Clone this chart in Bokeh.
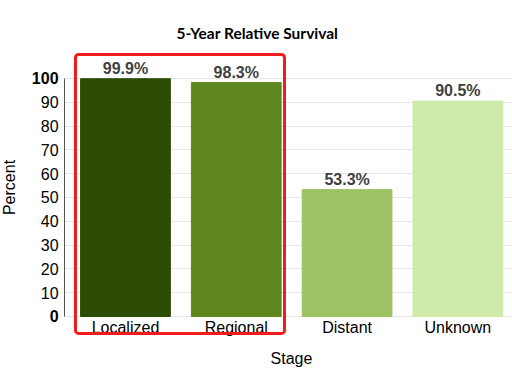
from bokeh.plotting import figure
from bokeh.models import ColumnDataSource, Range1d, FixedTicker, BoxAnnotation, LinearAxis
from bokeh.embed import file_html
from bokeh.resources import INLINE
from bokeh.core.properties import value

stages = ["Localized", "Regional", "Distant", "Unknown"]
survival = [99.9, 98.3, 53.3, 90.5]
colors = ["#2c4b03", "#5e881f", "#9dc264", "#d0eaa9"]
y_ticks = [0, 10, 20, 30, 40, 50, 60, 70, 80, 90, 100]
y_ticks_regular = [10, 20, 30, 40, 50, 60, 70, 80, 90]
y_ticks_bold = [0, 100]

xs = list(range(len(stages)))
src = ColumnDataSource(dict(x=xs, top=survival, color=colors,
                            label=[f"{v:.1f}%" for v in survival]))

X_AXIS = -0.55          # where the y axis sits
X0, X1 = -1.128, 3.493  # frame spans the whole canvas width
Y0, Y1 = -23.53, 110.92

p = figure(width=512, height=372, output_backend="svg", toolbar_location=None,
           x_range=Range1d(X0, X1), y_range=Range1d(Y0, Y1),
           min_border_left=0, min_border_right=0, min_border_top=52, min_border_bottom=0)

p.title.text = "5-Year Relative Survival"
p.title.text_font = "Lato"
p.title.text_font_size = "15.5px"
p.title.text_font_style = "bold"
p.title.text_color = "#000000"
p.title.align = "left"
p.title.offset = 176
p.title.standoff = 21

p.vbar(x="x", top="top", width=0.81, bottom=0, fill_color="color", line_color="color", source=src)
p.text(x="x", y="top", text="label", source=src, text_align="center", text_baseline="bottom",
       y_offset=-2, text_font=value("Liberation Sans"), text_font_size="16px",
       text_font_style="bold", text_color="#404040")

p.outline_line_color = None
p.background_fill_color = "white"

# x axis (drawn at y = 0)
xa = p.xaxis[0]
xa.fixed_location = 0
xa.bounds = (-0.42, 3.42)
xa.ticker = FixedTicker(ticks=xs)
xa.major_label_overrides = {i: s for i, s in enumerate(stages)}
xa.axis_line_color = None
xa.major_tick_line_color = None
xa.minor_tick_line_color = None
xa.major_tick_in = 0
xa.major_tick_out = 0
xa.major_label_text_font = "Liberation Sans"
xa.major_label_text_font_size = "16px"
xa.major_label_text_color = "#000000"
xa.major_label_standoff = 3
xa.axis_label = "Stage"
xa.axis_label_text_font = "Liberation Sans"
xa.axis_label_text_font_size = "16px"
xa.axis_label_text_font_style = "normal"
xa.axis_label_text_color = "#000000"
xa.axis_label_standoff = 10
p.xgrid.grid_line_color = None

# y axis: regular labels + axis title
ya = p.yaxis[0]
ya.fixed_location = X_AXIS
ya.ticker = FixedTicker(ticks=y_ticks_regular)
ya.bounds = (0, 108.4)
ya.axis_line_color = None
ya.major_tick_line_color = None
ya.minor_tick_line_color = None
ya.major_tick_in = 0
ya.major_tick_out = 0
ya.major_label_text_font = "Liberation Sans"
ya.major_label_text_font_size = "16px"
ya.major_label_text_color = "#000000"
ya.major_label_standoff = 6
ya.axis_label = "Percent"
ya.axis_label_text_font = "Liberation Sans"
ya.axis_label_text_font_size = "16px"
ya.axis_label_text_font_style = "normal"
ya.axis_label_text_color = "#000000"
ya.axis_label_standoff = 20

# y axis: bold end labels + axis line
yb = LinearAxis(fixed_location=X_AXIS, ticker=FixedTicker(ticks=y_ticks_bold), bounds=(0, 100),
                axis_line_color="#555555", major_tick_line_color=None, minor_tick_line_color=None,
                major_tick_in=0, major_tick_out=0,
                major_label_text_font="Liberation Sans", major_label_text_font_size="16px",
                major_label_text_font_style="bold", major_label_text_color="#000000",
                major_label_standoff=6)
p.add_layout(yb, "left")

g = p.ygrid[0]
g.ticker = FixedTicker(ticks=y_ticks)
g.grid_line_color = "#e6e6e6"
g.grid_line_width = 1
if "cross_bounds" in g.properties():
    g.cross_bounds = (X_AXIS, X1)

p.add_layout(BoxAnnotation(left=-0.451, right=1.435, bottom=-7.1, top=110.1,
                           fill_alpha=0, line_color="#f01c1c", line_alpha=1, line_width=3,
                           border_radius=3, level="overlay"))

open("out.html", "w").write(file_html(p, INLINE))
